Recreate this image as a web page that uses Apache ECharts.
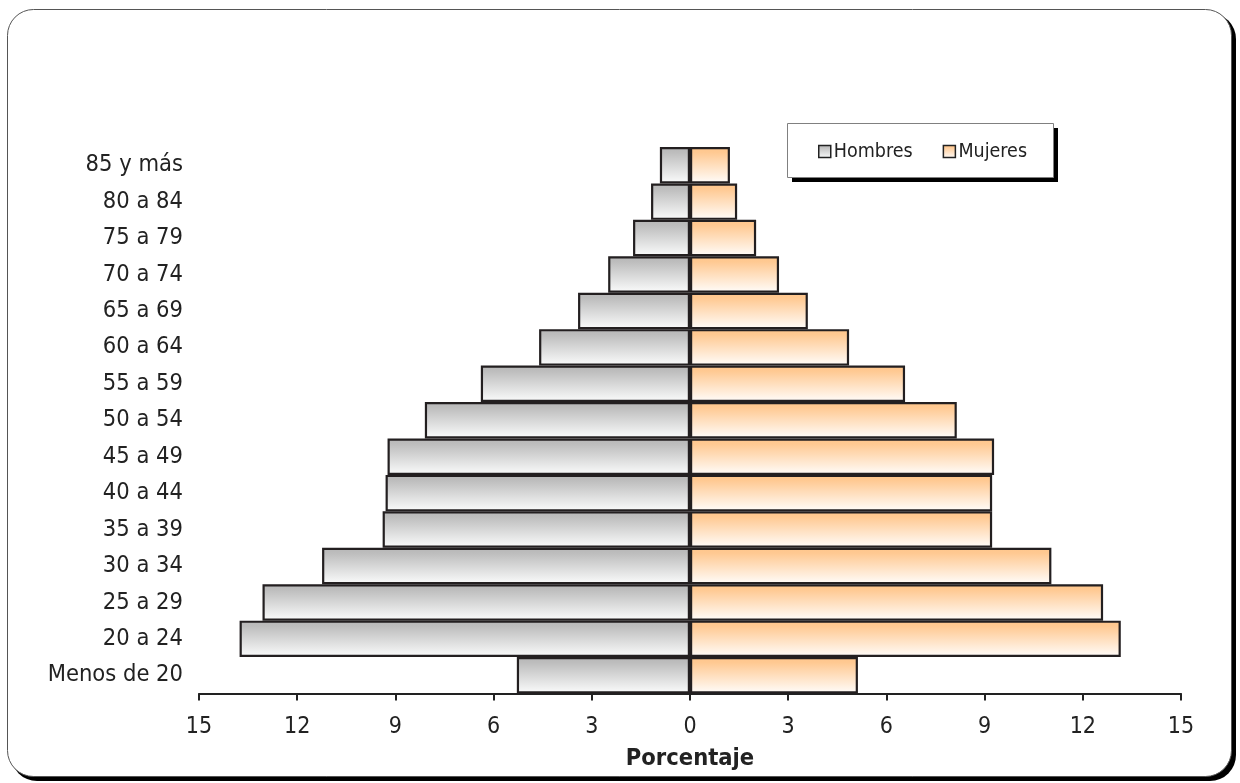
<!DOCTYPE html>
<html>
<head>
<meta charset="utf-8">
<script src="https://cdn.jsdelivr.net/npm/echarts@6/dist/echarts.min.js"></script>
<style>
html,body{margin:0;padding:0;background:#fff;}
#chart{width:1240px;height:783px;}
</style>
</head>
<body>
<div id="chart"></div>
<script>
var categories = ['Menos de 20','20 a 24','25 a 29','30 a 34','35 a 39','40 a 44','45 a 49','50 a 54','55 a 59','60 a 64','65 a 69','70 a 74','75 a 79','80 a 84','85 y más'];
var hombres = [5.29, 13.76, 13.06, 11.24, 9.39, 9.30, 9.24, 8.10, 6.39, 4.61, 3.42, 2.50, 1.74, 1.19, 0.92];
var mujeres = [5.13, 13.16, 12.62, 11.04, 9.23, 9.23, 9.29, 8.15, 6.57, 4.86, 3.60, 2.72, 2.02, 1.44, 1.22];
var xTicks = [-15, -12, -9, -6, -3, 0, 3, 6, 9, 12, 15];

var FONT = "'DejaVu Sans Condensed', 'DejaVu Sans', sans-serif";
var chart = echarts.init(document.getElementById('chart'), null, {renderer: 'canvas'});

var grayGrad = new echarts.graphic.LinearGradient(0, 0, 0, 1, [
  {offset: 0, color: '#b7b7b7'},
  {offset: 0.15, color: '#bdbdbd'},
  {offset: 1, color: '#fbfcfc'}
]);
var orangeGrad = new echarts.graphic.LinearGradient(0, 0, 0, 1, [
  {offset: 0, color: '#ffc68b'},
  {offset: 0.15, color: '#ffc992'},
  {offset: 1, color: '#fffdfb'}
]);

var option = {
  backgroundColor: '#ffffff',
  animation: false,
  graphic: [
    {type: 'rect', z: -10, shape: {x: 11, y: 13, width: 1225, height: 768, r: 26}, style: {fill: '#000'}},
    {type: 'rect', z: -9, shape: {x: 7.5, y: 9.5, width: 1224, height: 767, r: 26}, style: {fill: '#fff', stroke: '#555', lineWidth: 1}},
    {type: 'rect', z: -8, shape: {x: 792, y: 128, width: 266, height: 54}, style: {fill: '#000'}},
    {type: 'rect', z: -7, shape: {x: 787.5, y: 123.5, width: 266, height: 54}, style: {fill: '#fff', stroke: '#808080', lineWidth: 1}}
  ],
  legend: {
    data: ['Hombres', 'Mujeres'],
    left: 818, top: 141.5,
    orient: 'horizontal',
    padding: 0,
    itemGap: 30,
    itemWidth: 12, itemHeight: 12,
    icon: 'rect',
    itemStyle: {borderColor: '#222', borderWidth: 1.5},
    textStyle: {fontFamily: FONT, fontSize: 19.5, lineHeight: 20, color: '#222', padding: [0, 0, 0, -2]}
  },
  grid: {left: 199, top: 147, width: 982, height: 546.5, containLabel: false},
  xAxis: {
    type: 'value',
    min: -15, max: 15, interval: 3,
    name: 'Porcentaje',
    nameLocation: 'middle',
    nameGap: 53,
    nameTextStyle: {fontFamily: FONT, fontSize: 23.5, fontWeight: 'bold', color: '#222'},
    axisLine: {show: true, lineStyle: {color: '#222', width: 2}},
    axisTick: {show: true, length: 7, lineStyle: {color: '#222', width: 2}},
    splitLine: {show: false},
    axisLabel: {
      margin: 22,
      fontFamily: FONT, fontSize: 23, color: '#222',
      formatter: function (v) { return String(Math.abs(v)); }
    }
  },
  yAxis: {
    type: 'category',
    data: categories,
    axisLine: {show: false, onZero: false},
    axisTick: {show: false},
    splitLine: {show: false},
    axisLabel: {margin: 16, fontFamily: FONT, fontSize: 23.5, color: '#222'}
  },
  series: [
    {
      name: 'Hombres', type: 'bar', stack: 'p',
      barCategoryGap: '0%',
      data: hombres.map(function (v) { return -v; }),
      itemStyle: {color: grayGrad, borderColor: '#231f20', borderWidth: 2.2}
    },
    {
      name: 'Mujeres', type: 'bar', stack: 'p',
      barCategoryGap: '0%',
      data: mujeres,
      itemStyle: {color: orangeGrad, borderColor: '#231f20', borderWidth: 2.2}
    }
  ]
};
chart.setOption(option);
</script>
</body>
</html>
